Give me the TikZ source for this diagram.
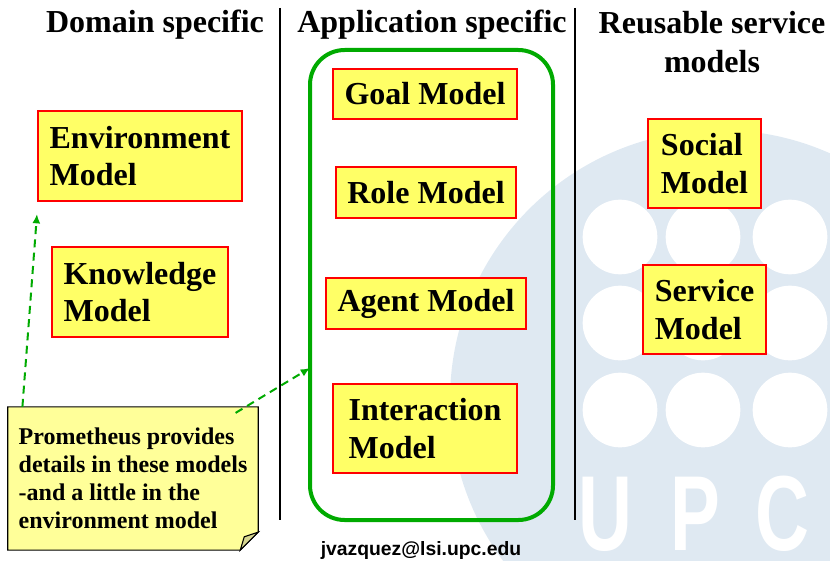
\documentclass[tikz,border=0pt]{standalone}
\usepackage{fontspec}
\setmainfont{Liberation Serif}
\newfontfamily\mailfont{Liberation Sans}
\usetikzlibrary{arrows.meta,backgrounds}

\definecolor{boxyellow}{HTML}{FFFF66}
\definecolor{noteyellow}{HTML}{FFFF99}
\definecolor{notefold}{HTML}{D6D690}
\definecolor{groupgreen}{HTML}{00AA00}
\definecolor{markblue}{HTML}{DFE9F2}

\tikzset{
  modelbox/.style={draw=red, line width=1.5pt, fill=boxyellow, align=left,
    inner sep=0pt, font=\fontsize{24}{28}\selectfont\bfseries},
  heading/.style={anchor=base, align=center, font=\fontsize{24}{29}\selectfont\bfseries},
  divider/.style={line width=2.2pt},
  notetext/.style={minimum width=187.5pt, minimum height=107pt, inner sep=0pt,
    align=left, font=\fontsize{18}{21}\selectfont\bfseries},
  notelink/.style={groupgreen, line width=1.5pt, dash pattern=on 6pt off 4pt,
    -{Latex[length=7pt,width=6pt]}},
}

\begin{document}
\begin{tikzpicture}[x=0.75pt, y=-0.75pt]
  \useasboundingbox (0,0) rectangle (830,560);

  % Watermark
  \begin{scope}
    \clip (0,0) rectangle (830,560);
    \fill[markblue] (720,400) circle [radius=202.5pt];
    \foreach \px in {620,703,790}
      \foreach \py in {237,323,410}
        \fill[white] (\px,\py) circle [radius=28pt];
  \end{scope}
  \foreach \ch/\px in {U/605,P/695,C/782}
    \node[white, anchor=base, xscale=0.7, inner sep=0pt,
      font=\mailfont\fontsize{80}{80}\selectfont\bfseries] at (\px,550) {\ch};

  % Column headings
  \node[heading] (dom) at (155,33) {Domain specific};
  \node[heading] (app) at (432,33) {Application specific};
  \node[heading] (reuse) at (712,72) {Reusable service\\models};

  % Column dividers
  \draw[divider] (280,8) -- (280,520);
  \draw[divider] (575,8) -- (575,520);

  % Domain specific models
  \node[modelbox, minimum width=153pt, minimum height=67.5pt] (env) at (140,156) {Environment\\Model};
  \node[modelbox, minimum width=132pt, minimum height=67.5pt] (know) at (140,292) {Knowledge\\Model};

  % Application specific models
  \draw[groupgreen, line width=3pt, rounded corners=26pt] (310,50) rectangle (553,520);
  \coordinate (appw) at (310,368); % left side of the group
  \node[modelbox, minimum width=138pt, minimum height=37.5pt] (goal) at (425,94) {Goal Model};
  \node[modelbox, minimum width=135pt, minimum height=38pt] (role) at (426,192.5) {Role Model};
  \node[modelbox, minimum width=150pt, minimum height=38pt] (agent) at (426,303.5) {Agent Model};
  \node[modelbox, minimum width=138pt, minimum height=67pt] (inter) at (425,428.5) {Interaction\\Model};

  % Reusable service models
  \node[modelbox, minimum width=85pt, minimum height=67pt] (social) at (704.5,163.5) {Social\\Model};
  \node[modelbox, minimum width=92pt, minimum height=67pt] (service) at (704.5,309.5) {Service\\Model};

  % Note with folded corner
  \node[notetext] (note) at (133,478.5)
    {Prometheus provides\\details in these models\\-and a little in the\\environment model};
  \begin{scope}[on background layer]
    \draw[fill=noteyellow, line width=0.8pt] (note.north west) -- (note.north east)
      -- ([yshift=13.5pt]note.south east) -- ([xshift=-13.5pt]note.south east) -- (note.south west) -- cycle;
    \draw[fill=notefold, line width=0.8pt] ([xshift=-13.5pt]note.south east)
      -- ([xshift=-10.5pt, yshift=10pt]note.south east) -- ([yshift=13.5pt]note.south east) -- cycle;
  \end{scope}

  % Links from the note
  \draw[notelink] ([xshift=11pt]note.north west) -- ([yshift=-9pt]env.south west);
  \draw[notelink] ([xshift=-17pt, yshift=-4.5pt]note.north east) -- (appw);

  % Footer
  \node[anchor=base, font=\mailfont\fontsize{14.5}{17}\selectfont\bfseries] (mail) at (421,555) {jvazquez@lsi.upc.edu};
\end{tikzpicture}
\end{document}
